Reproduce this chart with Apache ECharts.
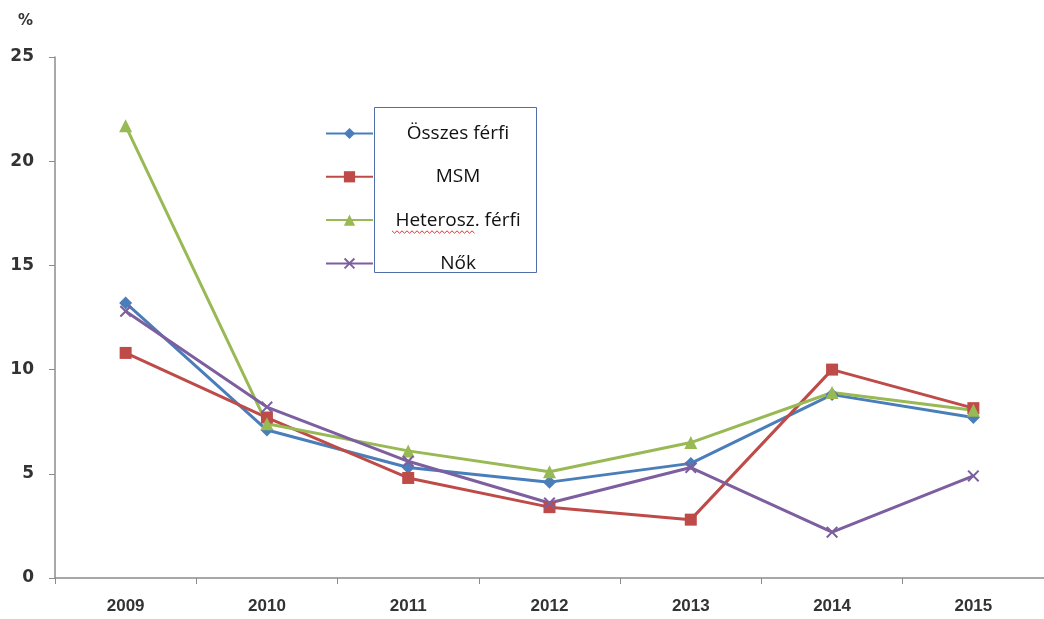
<!DOCTYPE html>
<html>
<head>
<meta charset="utf-8">
<script src="https://cdn.jsdelivr.net/npm/echarts@6/dist/echarts.min.js"></script>
<style>
  html, body { margin: 0; padding: 0; background: #fff; }
  #chart { width: 1044px; height: 619px; }
</style>
</head>
<body>
<div id="chart"></div>
<script>
// Years on the category axis
const years = ['2009', '2010', '2011', '2012', '2013', '2014', '2015'];

// Percentages per group
const osszesFerfi = [13.2, 7.1, 5.3, 4.6, 5.5, 8.8, 7.7];
const msm = [10.8, 7.7, 4.8, 3.4, 2.8, 10.0, 8.15];
const heteroszFerfi = [21.7, 7.4, 6.1, 5.1, 6.5, 8.9, 8.05];
const nok = [12.8, 8.2, 5.6, 3.6, 5.3, 2.2, 4.9];

// Y axis ticks
const yTicks = { min: 0, max: 25, interval: 5 };

const names = ['Összes férfi', 'MSM', 'Heterosz. férfi', 'Nők'];
const colors = ['#4A7EBB', '#BE4B48', '#98B954', '#7D5FA0'];
const crossPath = 'path://M0,1.2L1.2,0L5,3.8L8.8,0L10,1.2L6.2,5L10,8.8L8.8,10L5,6.2L1.2,10L0,8.8L3.8,5Z';
const symbols = ['diamond', 'rect', 'triangle', crossPath];
const symbolSizes = [13, 12, 13, 12];
const values = [osszesFerfi, msm, heteroszFerfi, nok];

// wavy spell-check style underline under the third legend entry
function wavy(x0, x1, y, step, amp) {
  const pts = [];
  let up = true;
  for (let x = x0; x <= x1; x += step) {
    pts.push([x, up ? y - amp : y + amp]);
    up = !up;
  }
  return pts;
}

const chart = echarts.init(document.getElementById('chart'));

chart.setOption({
  animation: false,
  backgroundColor: '#ffffff',
  title: {
    text: '%',
    left: 13,
    top: 9,
    textStyle: { fontFamily: 'DejaVu Sans', fontWeight: 'bold', fontSize: 15, color: '#333' }
  },
  legend: {
    orient: 'vertical',
    left: 320,
    top: 119,
    itemWidth: 47,
    itemHeight: 14,
    itemGap: 24.3,
    data: names,
    formatter: n => '{c|' + n + '}',
    textStyle: {
      rich: {
        c: { width: 160, align: 'center', fontFamily: 'Open Sans', fontSize: 19, color: '#111' }
      }
    }
  },
  graphic: [{
    type: 'rect',
    shape: { x: 374.5, y: 107.5, width: 162, height: 165 },
    style: { fill: 'none', stroke: '#4F6FA8', lineWidth: 1 },
    z: 10
  }, {
    type: 'polyline',
    shape: { points: wavy(392, 476, 232, 2.5, 1.2) },
    style: { fill: 'none', stroke: '#E03030', lineWidth: 1 },
    z: 10
  }],
  grid: { left: 55, right: -7, top: 57, bottom: 41 },
  xAxis: {
    type: 'category',
    data: years,
    boundaryGap: true,
    axisLine: { lineStyle: { color: '#8C8C8C', width: 1.5 } },
    axisTick: { show: true, length: 6, lineStyle: { color: '#8C8C8C' } },
    axisLabel: {
      margin: 20,
      fontFamily: 'Liberation Sans Narrow, Liberation Sans',
      fontWeight: 'bold',
      fontSize: 17,
      color: '#333'
    }
  },
  yAxis: {
    type: 'value',
    min: yTicks.min,
    max: yTicks.max,
    interval: yTicks.interval,
    splitLine: { show: false },
    axisLine: { show: true, lineStyle: { color: '#8C8C8C', width: 1.5 } },
    axisTick: { show: true, length: 6, lineStyle: { color: '#8C8C8C' } },
    axisLabel: {
      margin: 21,
      fontFamily: 'DejaVu Sans',
      fontWeight: 'bold',
      fontSize: 17,
      color: '#333'
    }
  },
  series: names.map((n, i) => ({
    name: n,
    type: 'line',
    data: values[i],
    symbol: symbols[i],
    symbolSize: symbolSizes[i],
    showAllSymbol: true,
    lineStyle: { color: colors[i], width: 3 },
    itemStyle: { color: colors[i] },
    emphasis: { disabled: true }
  }))
});
</script>
</body>
</html>
